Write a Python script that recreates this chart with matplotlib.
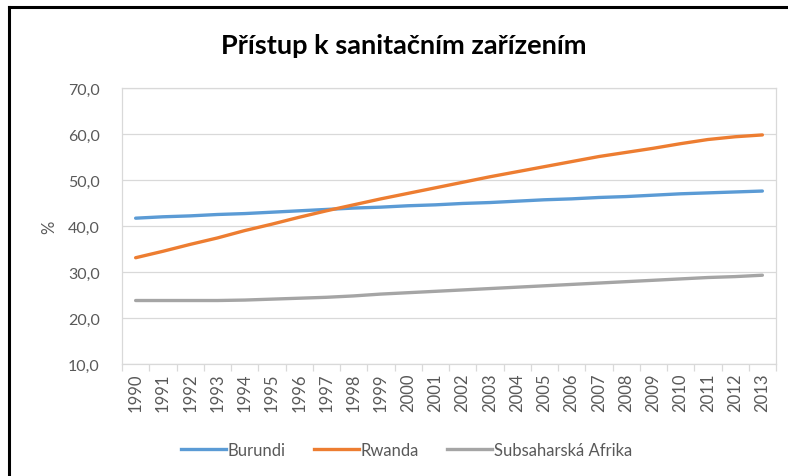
import matplotlib
matplotlib.use('Agg')
import matplotlib.pyplot as plt
from matplotlib.lines import Line2D

# Data
years = [str(y) for y in range(1990, 2014)]
burundi = [41.7, 42.0, 42.2, 42.5, 42.7, 43.0, 43.3, 43.6, 43.9, 44.1, 44.4, 44.6,
           44.9, 45.1, 45.4, 45.7, 45.9, 46.2, 46.4, 46.7, 47.0, 47.2, 47.4, 47.6]
rwanda = [33.1, 34.5, 36.0, 37.4, 39.0, 40.4, 41.9, 43.3, 44.6, 45.9, 47.1, 48.3,
          49.5, 50.7, 51.8, 52.9, 54.0, 55.1, 56.0, 56.9, 57.9, 58.8, 59.4, 59.8]
subsahara = [23.8, 23.8, 23.8, 23.8, 23.9, 24.1, 24.3, 24.5, 24.8, 25.2, 25.5, 25.8,
             26.1, 26.4, 26.7, 27.0, 27.3, 27.6, 27.9, 28.2, 28.5, 28.8, 29.0, 29.3]
series_names = ['Burundi', 'Rwanda', 'Subsaharská Afrika']
yticks = [10, 20, 30, 40, 50, 60, 70]

colors = ['#5B9BD5', '#ED7D31', '#A5A5A5']
txt_col = '#595959'
grid_col = '#D9D9D9'

plt.rcParams['font.family'] = ['Lato', 'DejaVu Sans']

fig = plt.figure(figsize=(7.88, 4.77), dpi=100)
ax = fig.add_axes([122 / 788, 112 / 477, 654 / 788, 276 / 477])

x = list(range(len(years)))
for vals, c, name in zip([burundi, rwanda, subsahara], colors, series_names):
    ax.plot(x, vals, color=c, lw=2.4, solid_capstyle='round', label=name, zorder=3)

ax.set_xlim(-0.5, len(years) - 0.5)
ax.set_ylim(10, 70)
ax.set_yticks(yticks)
ax.set_yticklabels([f'{v:.1f}'.replace('.', ',') for v in yticks])
ax.set_xticks(x)
ax.set_xticklabels(years, rotation=90)
ax.set_xticks([i - 0.5 for i in range(len(years) + 1)], minor=True)

ax.tick_params(axis='y', length=0, pad=16, labelsize=11.5, labelcolor=txt_col)
ax.tick_params(axis='x', which='major', length=0, pad=6, labelsize=12, labelcolor=txt_col)
ax.tick_params(axis='x', which='minor', length=5, color=grid_col, width=0.9)

ax.grid(axis='y', color=grid_col, lw=0.9, zorder=0)
for s in ax.spines.values():
    s.set_color(grid_col)
    s.set_linewidth(0.9)

ax.set_ylabel('%', color=txt_col, fontsize=12, labelpad=8)

fig.text(0.513, 1 - 46 / 477, 'Přístup k sanitačním zařízením', ha='center', va='center',
         fontsize=19.5, fontweight='bold', color='black')

handles = [Line2D([0], [0], color=c, lw=2.4) for c in colors]
fig.legend(handles, series_names, loc='center', bbox_to_anchor=(0.516, 1 - 451 / 477),
           ncol=3, frameon=False, fontsize=12, labelcolor=txt_col,
           handlelength=2.7, handletextpad=0.1, columnspacing=1.7)

# frame lines seen at top and left of the picture
fig.add_artist(Line2D([9 / 788, 1], [1 - 8 / 477, 1 - 8 / 477], color='black', lw=2.2))
fig.add_artist(Line2D([9 / 788, 9 / 788], [0, 1 - 8 / 477], color='black', lw=2.2))

fig.savefig('out.png', dpi=100, facecolor='white')
